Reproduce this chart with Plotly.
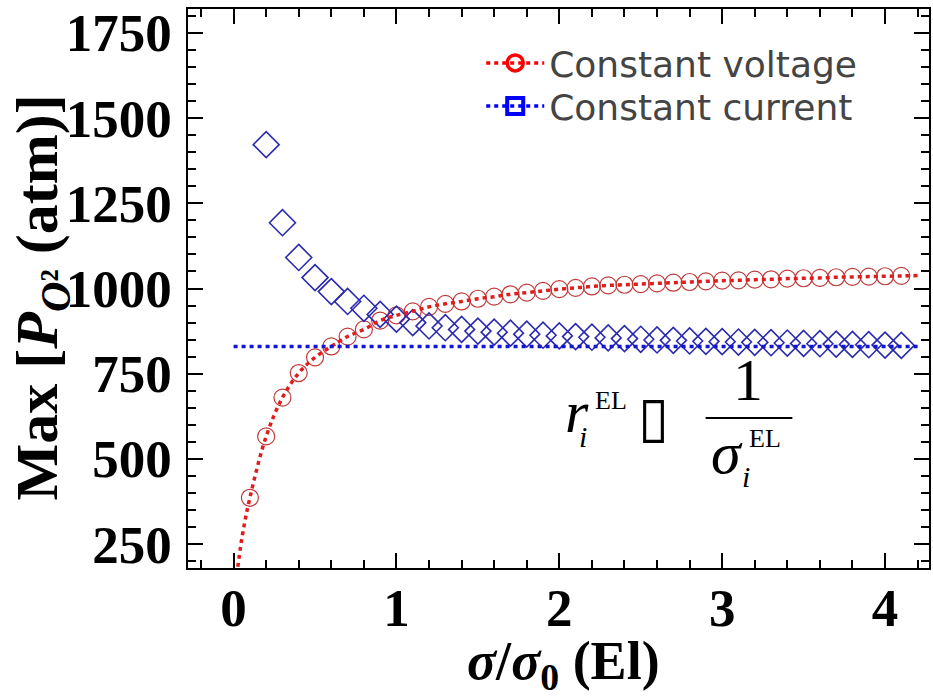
import plotly.graph_objects as go

# ---------------- data ----------------
x_cv = [0.1, 0.2, 0.3, 0.4, 0.5, 0.6, 0.7, 0.8, 0.9, 1.0,
        1.1, 1.2, 1.3, 1.4, 1.5, 1.6, 1.7, 1.8, 1.9, 2.0,
        2.1, 2.2, 2.3, 2.4, 2.5, 2.6, 2.7, 2.8, 2.9, 3.0,
        3.1, 3.2, 3.3, 3.4, 3.5, 3.6, 3.7, 3.8, 3.9, 4.0, 4.1]
y_cv = [386, 566, 680, 752, 798, 830, 859, 880, 906, 921,
        933, 946, 955, 962, 970, 976, 983, 988, 993, 998,
        1002, 1006, 1009, 1011, 1013, 1015, 1017, 1019, 1021, 1023,
        1024, 1026, 1027, 1029, 1030, 1031, 1033, 1034, 1035, 1036, 1037]

# dotted guide curve for constant voltage
x_cv_line = [0.02, 0.05] + x_cv + [4.2]
y_cv_line = [160, 265] + y_cv + [1038]

x_cc = [0.2, 0.3, 0.4, 0.5, 0.6, 0.7, 0.8, 0.9, 1.0,
        1.1, 1.2, 1.3, 1.4, 1.5, 1.6, 1.7, 1.8, 1.9, 2.0,
        2.1, 2.2, 2.3, 2.4, 2.5, 2.6, 2.7, 2.8, 2.9, 3.0,
        3.1, 3.2, 3.3, 3.4, 3.5, 3.6, 3.7, 3.8, 3.9, 4.0, 4.1]
y_cc = [1422, 1193, 1091, 1032, 991, 962, 942, 924, 910,
        900, 890, 885, 880, 875, 872, 869, 866, 863, 861,
        859, 857, 855, 853, 851, 849, 848, 846, 845, 844,
        843, 842, 841, 840, 839, 838, 837, 836, 835, 834, 833]

# constant-current dotted level
x_cc_line = [0.0, 4.2]
y_cc_line = [830, 830]

y_ticks = [250, 500, 750, 1000, 1250, 1500, 1750]
x_ticks = [0, 1, 2, 3, 4]

legend_names = ["Constant voltage", "Constant current"]

# ---------------- layout helpers ----------------
W, H = 933, 699
L, R, T, B = 188, 931, 9, 568


def px(x):
    return (x - L) / (R - L)


def py(y):
    return (B - y) / (B - T)


RED_LINE = "#e01c1c"
RED_MK = "#c03a3a"
BLUE_LINE = "#1414d8"
BLUE_MK = "#2a2ab0"
SERIF = "Liberation Serif"

fig = go.Figure()

fig.add_trace(go.Scatter(
    x=x_cv, y=y_cv, mode="markers", showlegend=False,
    marker=dict(symbol="circle-open", size=17, color=RED_MK, line=dict(width=1.2, color=RED_MK)),
))
fig.add_trace(go.Scatter(
    x=x_cc, y=y_cc, mode="markers", showlegend=False,
    marker=dict(symbol="diamond-open", size=20, color=BLUE_MK, line=dict(width=1.6, color=BLUE_MK)),
))
fig.add_trace(go.Scatter(
    x=x_cv_line, y=y_cv_line, mode="lines", showlegend=False,
    line=dict(color=RED_LINE, width=3.5, dash="4px,4px", shape="spline"),
))
fig.add_trace(go.Scatter(
    x=x_cc_line, y=y_cc_line, mode="lines", showlegend=False,
    line=dict(color=BLUE_LINE, width=3.5, dash="4px,4px"),
))

# legend entries
fig.add_trace(go.Scatter(
    x=[None], y=[None], mode="lines+markers", name=legend_names[0], legend="legend",
    line=dict(color="#ff0000", width=3.5, dash="4px,4px"),
    marker=dict(symbol="circle-open", size=16, color="#ff0000", line=dict(width=3.5, color="#ff0000")),
))
fig.add_trace(go.Scatter(
    x=[None], y=[None], mode="lines+markers", name=legend_names[1], legend="legend2",
    line=dict(color="#0000ff", width=3.5, dash="4px,4px"),
    marker=dict(symbol="square-open", size=16, color="#0000ff", line=dict(width=4, color="#0000ff")),
))

tick_font = dict(family=SERIF, size=53, color="black", weight="bold")
axis_common = dict(
    showline=True, linecolor="black", linewidth=1.5, mirror="ticks",
    ticks="inside", ticklen=15, tickwidth=2, tickcolor="black",
    showgrid=False, zeroline=False, tickfont=tick_font,
)

fig.update_xaxes(
    range=[-0.28, 4.27], tickvals=x_ticks, ticktext=[str(v) for v in x_ticks],
    minor=dict(dtick=0.2, tick0=0, ticks="inside", ticklen=8, tickwidth=1.5, tickcolor="black"),
    ticklabelstandoff=-7, **axis_common,
)
fig.update_yaxes(
    range=[180, 1820], tickvals=y_ticks, ticktext=[str(v) for v in y_ticks],
    minor=dict(dtick=50, tick0=0, ticks="inside", ticklen=8, tickwidth=1.5, tickcolor="black"),
    ticklabelstandoff=4, **axis_common,
)

legend_font = dict(family="DejaVu Sans", size=36, color="#444444")
fig.update_layout(
    width=W, height=H,
    margin=dict(l=L, r=W - R, t=T, b=H - B, pad=0),
    paper_bgcolor="white", plot_bgcolor="white",
    legend=dict(x=px(482), y=py(63), xanchor="left", yanchor="middle", font=legend_font,
                bgcolor="rgba(0,0,0,0)", borderwidth=0, itemwidth=58),
    legend2=dict(x=px(482), y=py(106), xanchor="left", yanchor="middle", font=legend_font,
                 bgcolor="rgba(0,0,0,0)", borderwidth=0, itemwidth=58),
)

ann = []
# axis titles
ann.append(dict(text="<b>Max [<i>P</i><sub><i>O</i>²</sub> (atm)]</b>", textangle=-90,
                x=px(41), y=py(297), xref="paper", yref="paper", showarrow=False,
                xanchor="center", yanchor="middle", font=dict(family=SERIF, size=60, color="black")))
ann.append(dict(text="<b><i>σ</i>/<i>σ</i><sub>0</sub> (El)</b>",
                x=px(565), y=py(664), xref="paper", yref="paper", showarrow=False,
                xanchor="center", yanchor="middle", font=dict(family=SERIF, size=54, color="black")))

# formula r_i^EL ∝ 1/σ_i^EL (the relation sign shows as an empty box)
def txt(t, x, y, size, family=SERIF):
    ann.append(dict(text=t, x=px(x), y=py(y), xref="paper", yref="paper", showarrow=False,
                    xanchor="center", yanchor="middle", font=dict(family=family, size=size, color="black")))

txt("<i>r</i>", 578, 412, 60)
txt("<i>i</i>", 584, 436, 30)
txt("EL", 612, 400, 26)
txt("▯", 655, 416, 56, "DejaVu Sans")
txt("1", 750, 380, 60)
txt("<i>σ</i>", 728, 453, 60)
txt("EL", 767, 439, 26)
txt("<i>i</i>", 748, 477, 30)

fig.update_layout(annotations=ann)
fig.add_shape(type="line", xref="paper", yref="paper", x0=px(707), x1=px(794), y0=py(418), y1=py(418),
              line=dict(color="black", width=2))

fig.write_html("out.html")
